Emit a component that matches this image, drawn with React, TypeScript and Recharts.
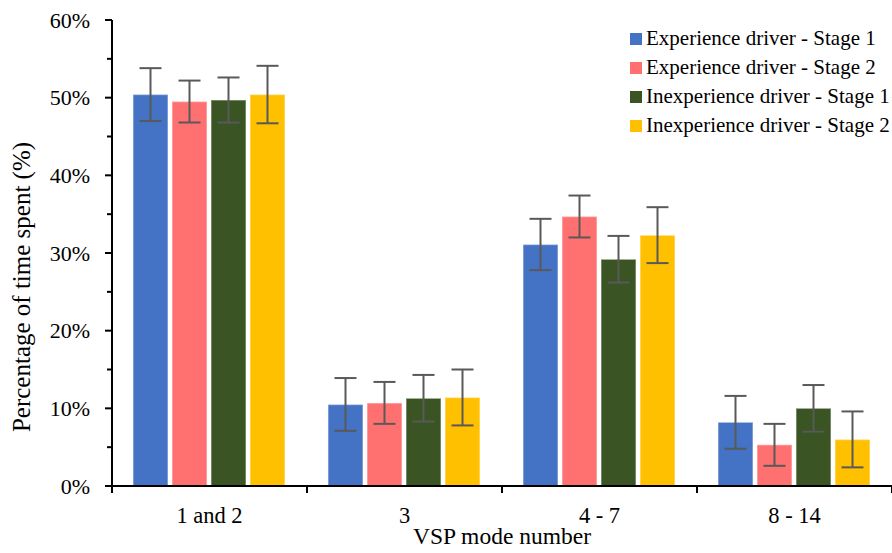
import { BarChart, Bar, XAxis, YAxis, ErrorBar, Legend } from 'recharts';

const FONT = '"Liberation Serif", "Times New Roman", serif';

const categories = ['1 and 2', '3', '4 - 7', '8 - 14'];
const expStage1 = [50.4, 10.5, 31.1, 8.2];
const expStage2 = [49.5, 10.7, 34.7, 5.3];
const inexpStage1 = [49.7, 11.3, 29.2, 10.0];
const inexpStage2 = [50.4, 11.4, 32.3, 6.0];
const expStage1Err = [3.4, 3.4, 3.3, 3.4];
const expStage2Err = [2.7, 2.7, 2.7, 2.7];
const inexpStage1Err = [2.9, 3.0, 3.0, 3.0];
const inexpStage2Err = [3.7, 3.6, 3.6, 3.6];
const yTicks = [0, 5, 10, 15, 20, 25, 30, 35, 40, 45, 50, 55, 60];

const SERIES = [
  { key: 'es1', name: 'Experience driver - Stage 1', color: '#4472C4' },
  { key: 'es2', name: 'Experience driver - Stage 2', color: '#FF7171' },
  { key: 'is1', name: 'Inexperience driver - Stage 1', color: '#3A5424' },
  { key: 'is2', name: 'Inexperience driver - Stage 2', color: '#FFC000' },
];

const data = categories.map((c, i) => ({
  cat: c,
  es1: expStage1[i], es1Err: expStage1Err[i],
  es2: expStage2[i], es2Err: expStage2Err[i],
  is1: inexpStage1[i], is1Err: inexpStage1Err[i],
  is2: inexpStage2[i], is2Err: inexpStage2Err[i],
}));

function YTick({ x, y, payload }: any) {
  const major = payload.value % 10 === 0;
  return (
    <g>
      <line x1={x - (major ? 7 : 5)} x2={x} y1={y} y2={y} stroke="#000" strokeWidth={2} />
      {major && (
        <text x={x - 22} y={y} dy="0.35em" textAnchor="end" fontSize={22} fontFamily={FONT} fill="#000">
          {payload.value}%
        </text>
      )}
    </g>
  );
}

function XTick({ x, y, payload, index, visibleTicksCount }: any) {
  const off = payload.offset ?? 0;
  return (
    <g>
      <line x1={x - off} x2={x - off} y1={y} y2={y + 7} stroke="#000" strokeWidth={2} />
      {index === visibleTicksCount - 1 && (
        <line x1={x + off} x2={x + off} y1={y} y2={y + 7} stroke="#000" strokeWidth={2} />
      )}
      <text x={x} y={y + 37} textAnchor="middle" fontSize={22.5} fontFamily={FONT} fill="#000">
        {payload.value}
      </text>
    </g>
  );
}

function LegendBox({ payload }: any) {
  return (
    <div style={{ fontFamily: FONT, fontSize: 21, color: '#000' }}>
      {(payload || []).map((p: any) => (
        <div key={p.value} style={{ display: 'flex', alignItems: 'center', height: 29, lineHeight: '29px', whiteSpace: 'nowrap' }}>
          <span style={{ display: 'inline-block', width: 12, height: 12, background: p.color, marginRight: 4 }} />
          {p.value}
        </div>
      ))}
    </div>
  );
}

export default function App() {
  return (
    <div style={{ position: 'absolute', left: 0, top: 0, width: 892, height: 553, background: '#fff', overflow: 'hidden' }}>
      <BarChart
        width={892}
        height={553}
        data={data}
        margin={{ top: 20, right: 0, bottom: 0, left: 0 }}
        barCategoryGap={21}
        barGap={4}
      >
        <XAxis
          dataKey="cat"
          height={67}
          tickLine={false}
          tickSize={0}
          tickMargin={0}
          axisLine={{ stroke: '#000', strokeWidth: 2 }}
          tick={<XTick />}
          interval={0}
          label={{
            value: 'VSP mode number',
            position: 'insideBottom',
            offset: 9,
            style: { fontSize: 23.5, fontFamily: FONT, fill: '#000' },
          }}
        />
        <YAxis
          width={112}
          domain={[0, 60]}
          ticks={yTicks}
          interval={0}
          tickLine={false}
          tickSize={0}
          tickMargin={0}
          axisLine={{ stroke: '#000', strokeWidth: 2 }}
          tick={<YTick />}
          label={{
            content: (p: any) => {
              const vb = p.viewBox;
              const cx = vb.x + 21;
              const cy = vb.y + vb.height / 2 + 34;
              return (
                <text
                  transform={`translate(${cx},${cy}) rotate(-90)`}
                  textAnchor="middle"
                  dy="0.35em"
                  fontSize={25}
                  fontFamily={FONT}
                  fill="#000"
                >
                  Percentage of time spent (%)
                </text>
              );
            },
          }}
        />
        <Legend
          layout="horizontal"
          verticalAlign="middle"
          align="center"
          wrapperStyle={{ top: 24, left: 630, width: 'auto' }}
          content={<LegendBox />}
        />
        {SERIES.map((s) => (
          <Bar
            key={s.key}
            dataKey={s.key}
            name={s.name}
            fill={s.color}
            stroke="#ffffff"
            strokeOpacity={0.4}
            strokeWidth={1.5}
            isAnimationActive={false}
          >
            <ErrorBar dataKey={`${s.key}Err`} width={11} stroke="#595959" strokeWidth={2} isAnimationActive={false} />
          </Bar>
        ))}
      </BarChart>
    </div>
  );
}
